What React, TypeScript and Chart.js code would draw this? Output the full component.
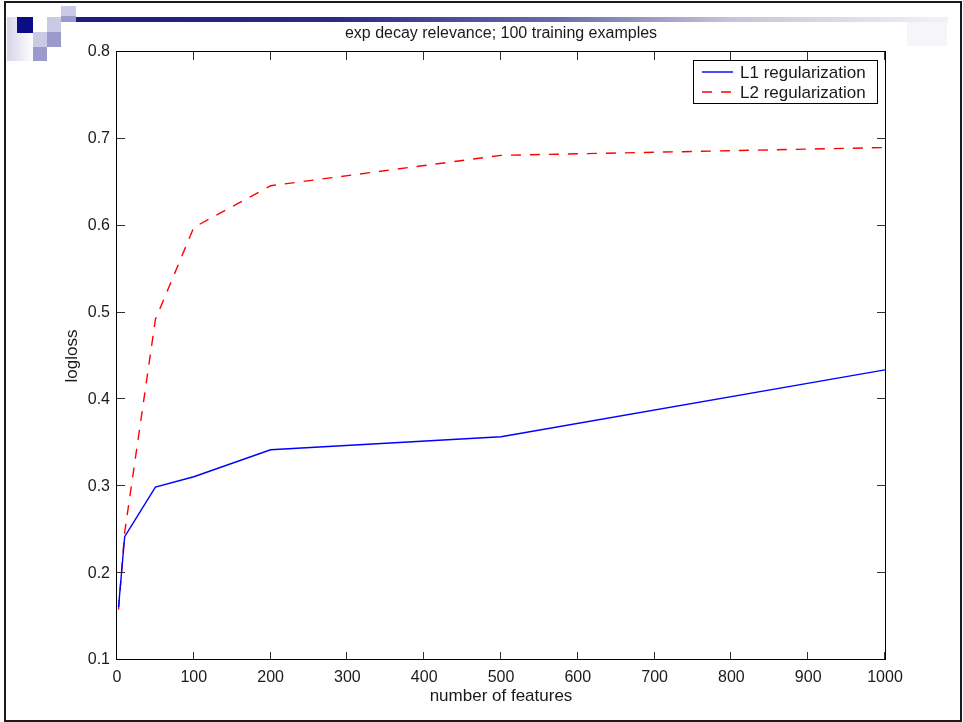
import React, { useEffect, useRef } from "react";
import { Chart, registerables } from "chart.js";

Chart.register(...registerables);

// ---- data ----
const featureCounts = [2, 10, 50, 100, 200, 500, 1000];
const l1Logloss = [0.161, 0.242, 0.299, 0.311, 0.342, 0.357, 0.434];
const l2Logloss = [0.158, 0.247, 0.492, 0.598, 0.646, 0.681, 0.69];
const seriesLabels = ["L1 regularization", "L2 regularization"];
const chartTitle = "exp decay relevance; 100 training examples";
const xAxisTitle = "number of features";
const yAxisTitle = "logloss";
const xTickValues = [0, 100, 200, 300, 400, 500, 600, 700, 800, 900, 1000];
const yTickValues = [0.1, 0.2, 0.3, 0.4, 0.5, 0.6, 0.7, 0.8];

const FONT = "'Liberation Sans', Arial, sans-serif";
const TEXT = "#1a1a1a";

const boxPlugin = {
  id: "matlabBox",
  afterDraw(chart: any) {
    const { ctx, chartArea, scales } = chart;
    const { left, right, top, bottom } = chartArea;
    const x = scales.x;
    const y = scales.y;
    ctx.save();
    // inward ticks
    ctx.strokeStyle = "#333";
    ctx.lineWidth = 1;
    const tl = 8;
    ctx.beginPath();
    xTickValues.forEach((v) => {
      const px = Math.round(x.getPixelForValue(v)) - 0.5;
      ctx.moveTo(px, bottom);
      ctx.lineTo(px, bottom - tl);
      ctx.moveTo(px, top);
      ctx.lineTo(px, top + tl);
    });
    yTickValues.forEach((v) => {
      const py = Math.round(y.getPixelForValue(v)) - 0.5;
      ctx.moveTo(left, py);
      ctx.lineTo(left + tl, py);
      ctx.moveTo(right, py);
      ctx.lineTo(right - tl, py);
    });
    ctx.stroke();
    // frame
    ctx.strokeStyle = "#000";
    ctx.strokeRect(left - 0.5, top - 0.5, right - left + 1, bottom - top);

    // legend
    const lx = 693.5, ly = 60.5, lw = 184, lh = 43;
    ctx.fillStyle = "#fff";
    ctx.fillRect(lx, ly, lw, lh);
    ctx.strokeStyle = "#000";
    ctx.lineWidth = 1;
    ctx.strokeRect(lx, ly, lw, lh);
    chart.data.datasets.forEach((ds: any, i: number) => {
      const cy = 72 + i * 20;
      ctx.strokeStyle = ds.borderColor;
      ctx.lineWidth = ds.borderWidth;
      ctx.setLineDash(ds.borderDash || []);
      ctx.beginPath();
      ctx.moveTo(702, cy);
      ctx.lineTo(733, cy);
      ctx.stroke();
      ctx.setLineDash([]);
      ctx.fillStyle = TEXT;
      ctx.font = `17px ${FONT}`;
      ctx.textBaseline = "middle";
      ctx.textAlign = "left";
      ctx.fillText(ds.label, 740, cy + 1.5);
    });
    ctx.restore();
  },
};

export default function App() {
  const ref = useRef<HTMLCanvasElement | null>(null);

  useEffect(() => {
    if (!ref.current) return;
    const chart = new Chart(ref.current, {
      type: "line",
      data: {
        datasets: [
          {
            label: seriesLabels[0],
            data: featureCounts.map((f, i) => ({ x: f, y: l1Logloss[i] })),
            borderColor: "#0000ff",
            borderWidth: 1.4,
            pointRadius: 0,
            tension: 0,
            fill: false,
          },
          {
            label: seriesLabels[1],
            data: featureCounts.map((f, i) => ({ x: f, y: l2Logloss[i] })),
            borderColor: "#ff0000",
            borderWidth: 1.4,
            borderDash: [10, 9],
            pointRadius: 0,
            tension: 0,
            fill: false,
          },
        ],
      },
      options: {
        animation: false,
        responsive: false,
        devicePixelRatio: 1,
        layout: { padding: { left: 0, right: 78, top: 0, bottom: 0 } },
        plugins: {
          legend: { display: false },
          tooltip: { enabled: false },
          title: {
            display: true,
            text: chartTitle,
            fullSize: false,
            color: TEXT,
            font: { family: FONT, size: 16, weight: "normal" },
            padding: { top: 24, bottom: 8.8 },
          },
        },
        scales: {
          x: {
            type: "linear",
            min: 0,
            max: 1000,
            afterBuildTicks: (s: any) => {
              s.ticks = xTickValues.map((v) => ({ value: v }));
            },
            afterFit: (s: any) => {
              s.height = 62;
            },
            ticks: {
              color: TEXT,
              font: { family: FONT, size: 16 },
              padding: 8,
              maxRotation: 0,
              autoSkip: false,
              callback: (v: any) => String(v),
            },
            grid: { display: false, drawTicks: false },
            border: { display: false },
            title: {
              display: true,
              text: xAxisTitle,
              color: TEXT,
              font: { family: FONT, size: 17 },
              padding: { top: 0, bottom: 15 },
            },
          },
          y: {
            type: "linear",
            min: 0.1,
            max: 0.8,
            afterBuildTicks: (s: any) => {
              s.ticks = yTickValues.map((v) => ({ value: v }));
            },
            afterFit: (s: any) => {
              s.width = 117;
            },
            ticks: {
              color: TEXT,
              font: { family: FONT, size: 16 },
              padding: 7,
              autoSkip: false,
              callback: (v: any) => Number(v).toFixed(1),
            },
            grid: { display: false, drawTicks: false },
            border: { display: false },
            title: {
              display: true,
              text: yAxisTitle,
              color: TEXT,
              font: { family: FONT, size: 17 },
              padding: { top: 62, bottom: 0 },
            },
          },
        },
      },
      plugins: [boxPlugin],
    } as any);
    return () => chart.destroy();
  }, []);

  const sq = (l: number, t: number, w: number, h: number, bg: string) => (
    <div style={{ position: "absolute", left: l, top: t, width: w, height: h, background: bg }} />
  );

  return (
    <div
      style={{
        position: "fixed",
        left: 0,
        top: 0,
        width: 963,
        height: 722,
        background: "#fff",
        overflow: "hidden",
      }}
    >
      {/* slide frame */}
      <div
        style={{
          position: "absolute",
          left: 4,
          top: 1,
          width: 958,
          height: 721,
          border: "2px solid #1a1a1a",
          boxSizing: "border-box",
        }}
      />
      {/* decorations */}
      {sq(7, 17, 26, 44, "linear-gradient(to right, #d4d4ea, #ffffff)")}
      {sq(17, 17, 16, 16, "#0c0c84")}
      {sq(61, 6, 15, 10, "#cacae6")}
      {sq(61, 16, 15, 6, "#9a9acc")}
      {sq(47, 17, 14, 15, "#cacae6")}
      {sq(33, 32, 14, 15, "#cacae6")}
      {sq(47, 32, 14, 15, "#9a9acc")}
      {sq(33, 47, 14, 14, "#9a9acc")}
      {sq(
        76,
        17,
        872,
        5,
        "linear-gradient(to right, #1c1c80 0%, #2a2a8a 30%, #6a6aaa 55%, #c4c4da 75%, #f2f2f6 100%)"
      )}
      {sq(907, 22, 40, 24, "#f6f6f8")}
      <canvas
        ref={ref}
        width={963}
        height={722}
        style={{ position: "absolute", left: 0, top: 0, width: 963, height: 722 }}
      />
    </div>
  );
}
